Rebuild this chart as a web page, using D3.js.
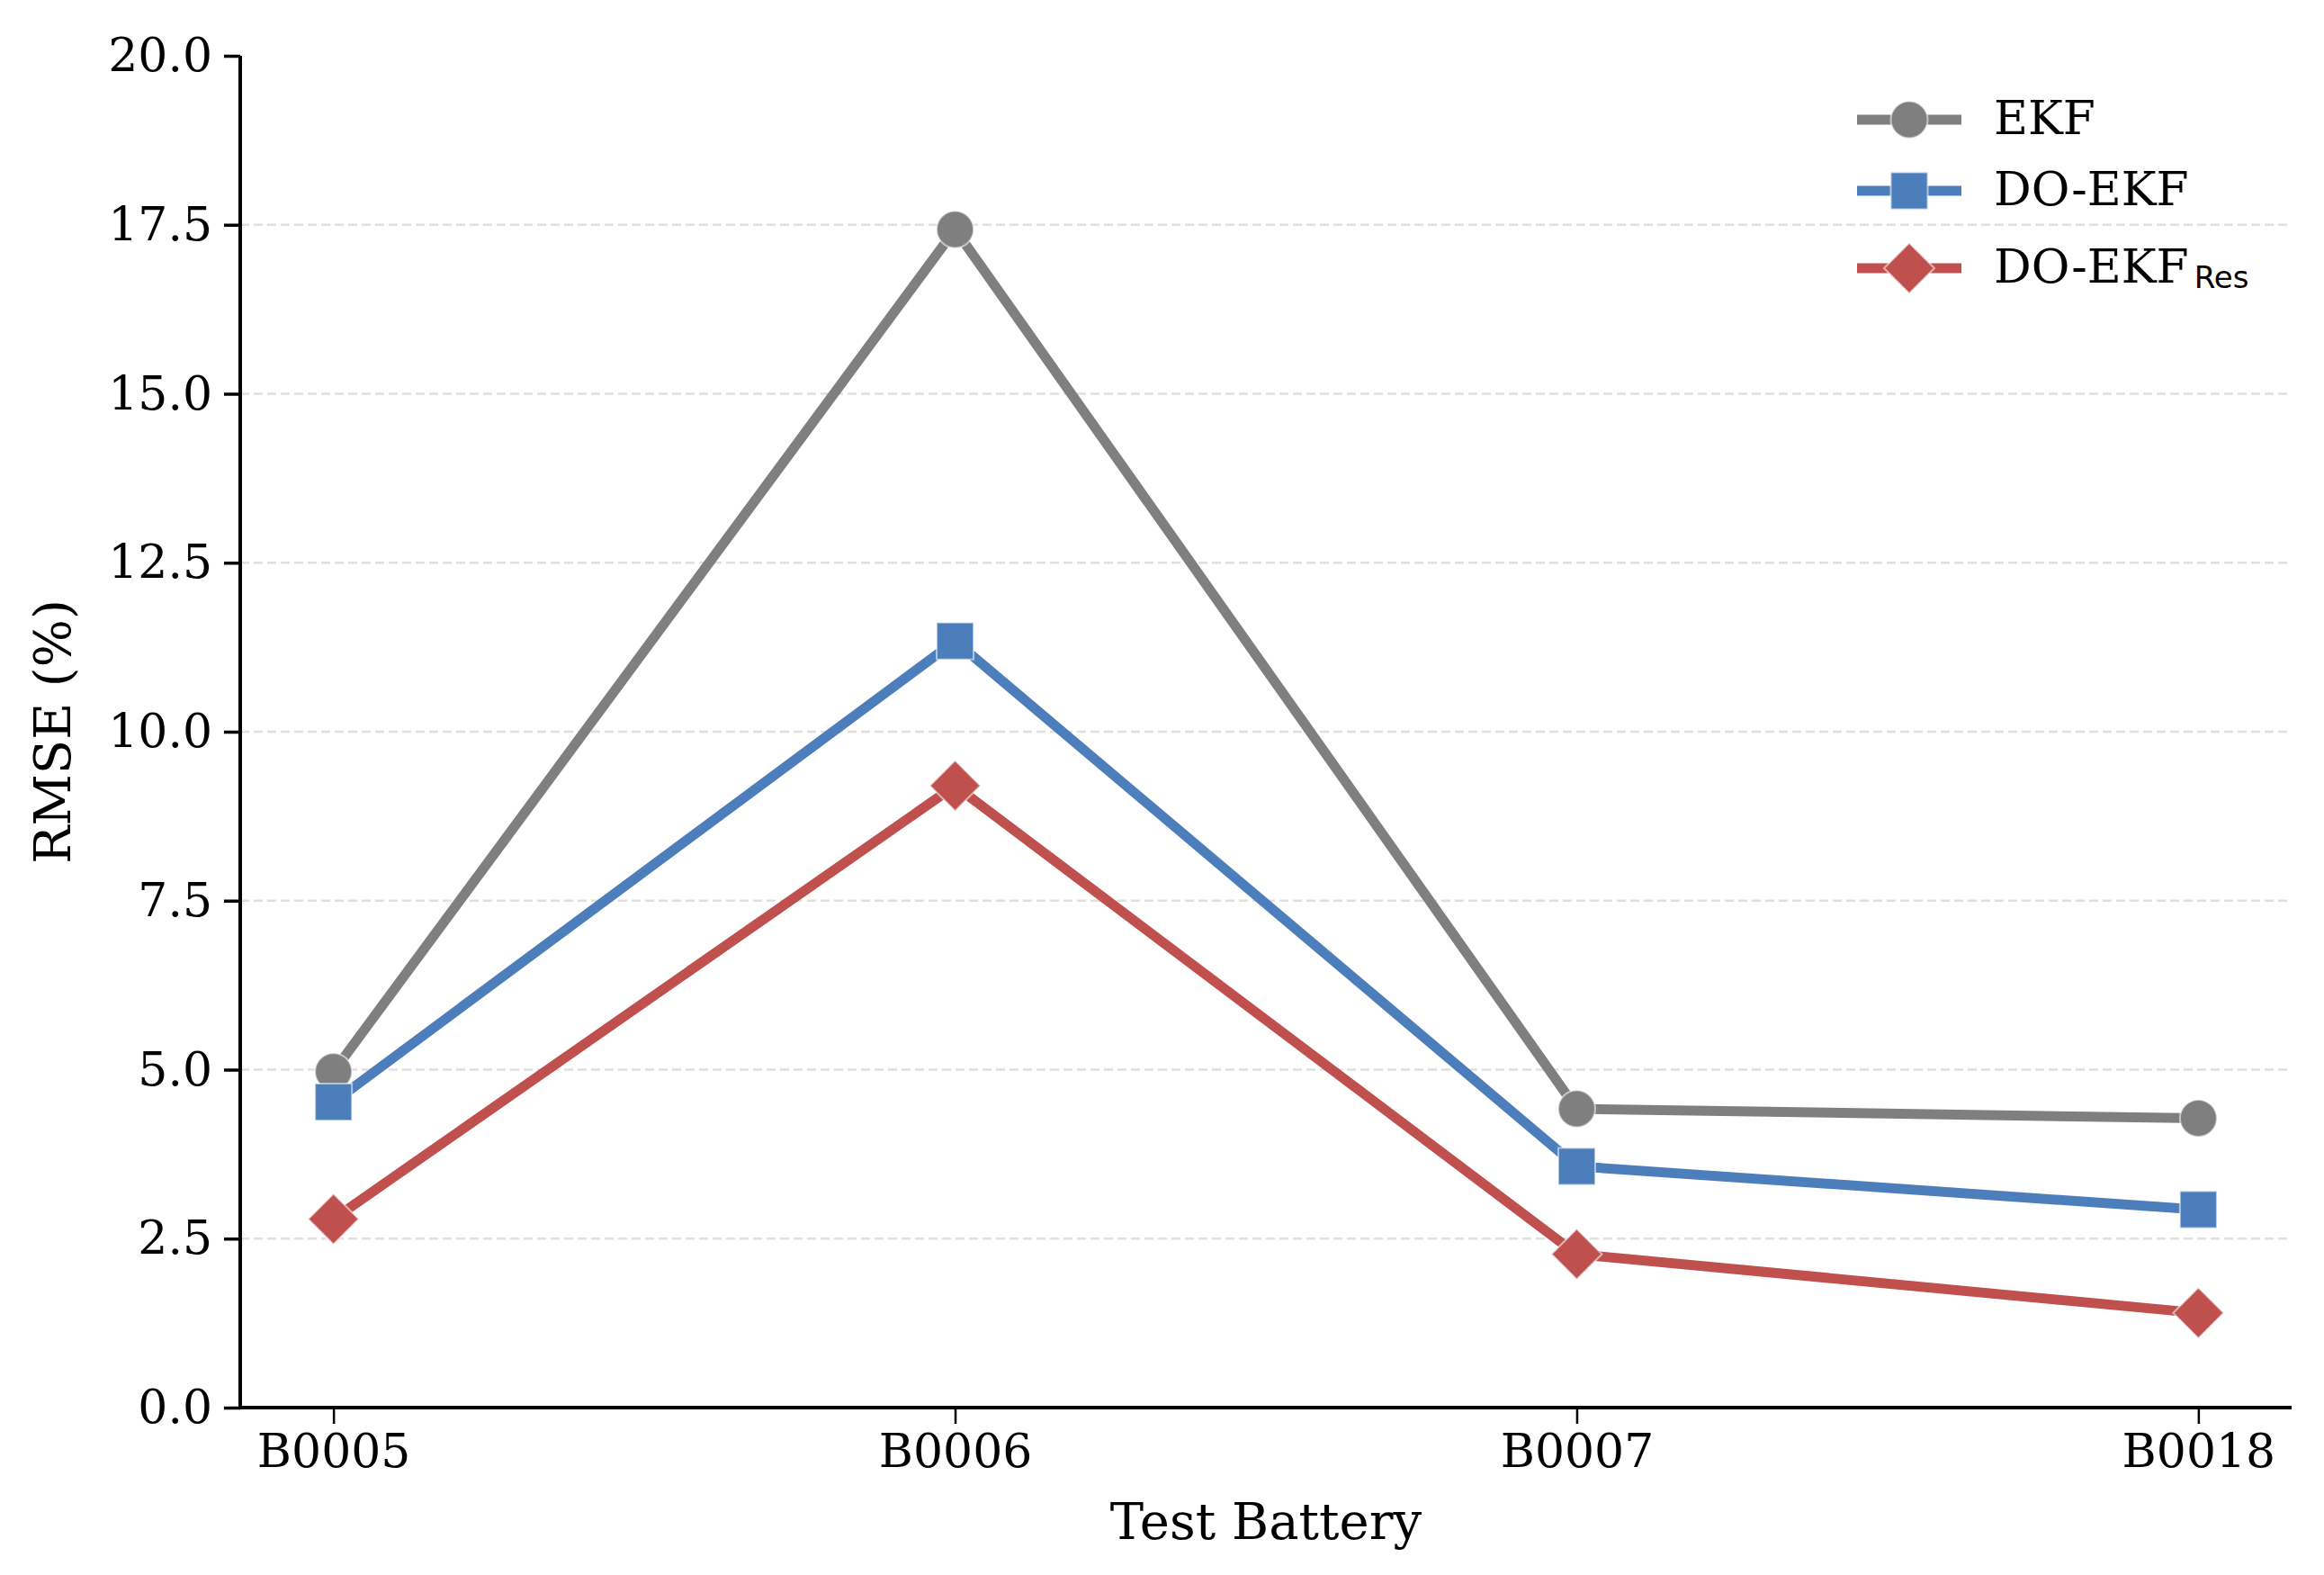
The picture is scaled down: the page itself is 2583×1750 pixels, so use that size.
<!DOCTYPE html>
<html>
<head>
<meta charset="utf-8">
<script src="https://cdn.jsdelivr.net/npm/d3@7"></script>
<style>
  html, body { margin: 0; padding: 0; background: #fff; }
  svg { display: block; }
</style>
</head>
<body>
<svg id="chart" width="2583" height="1750"></svg>
<script>
// ---- Data ----
const categories = ["B0005", "B0006", "B0007", "B0018"];
const ekfValues = [4.97, 17.43, 4.42, 4.28];
const doEkfValues = [4.52, 11.34, 3.57, 2.93];
const doEkfResValues = [2.79, 9.20, 2.27, 1.40];
const yTicks = [0, 2.5, 5, 7.5, 10, 12.5, 15, 17.5, 20];
const seriesNames = ["EKF", "DO-EKF", "DO-EKF"];
const seriesSubs = ["", "", "Res"];
const seriesColors = ["#7f7f7f", "#4d7ebc", "#c0504d"];
const seriesMarkers = ["circle", "square", "diamond"];
const xLabel = "Test Battery";
const yLabel = "RMSE (%)";

const series = [ekfValues, doEkfValues, doEkfResValues].map((vals, i) => ({
  name: seriesNames[i], sub: seriesSubs[i], color: seriesColors[i], marker: seriesMarkers[i],
  values: vals.map((v, j) => ({ cat: j, v }))
}));

// ---- Layout ----
const svg = d3.select("#chart");
const pLeft = 267, pRight = 2547, pTop = 62, pBottom = 1564;
const serif = "'DejaVu Serif', serif";

const x = d3.scaleLinear().domain([-0.15, categories.length - 1 + 0.15]).range([pLeft, pRight]);
const y = d3.scaleLinear().domain([0, 20]).range([pBottom, pTop]);

// gridlines
svg.append("g")
  .selectAll("line")
  .data(yTicks.filter(t => t > 0 && t < 20))
  .join("line")
  .attr("x1", pLeft).attr("x2", pRight)
  .attr("y1", d => y(d)).attr("y2", d => y(d))
  .attr("stroke", "#e0e0e0")
  .attr("stroke-width", 2.5)
  .attr("stroke-dasharray", "10,5");

// y axis
const yAxis = svg.append("g")
  .attr("transform", `translate(${pLeft},0)`)
  .call(d3.axisLeft(y).tickValues(yTicks).tickFormat(d3.format(".1f")).tickSize(18).tickPadding(13));
yAxis.select(".domain").attr("stroke", "#000").attr("stroke-width", 4).attr("d", `M0,${pTop}V${pBottom}`);
yAxis.selectAll(".tick line").attr("stroke", "#000").attr("stroke-width", 3.5);
yAxis.selectAll(".tick text").attr("font-family", serif).attr("font-size", 52).attr("fill", "#000");

// x axis
const xAxis = svg.append("g")
  .attr("transform", `translate(0,${pBottom})`)
  .call(d3.axisBottom(x).tickValues(d3.range(categories.length)).tickFormat(i => categories[i]).tickSize(18).tickPadding(11));
xAxis.select(".domain").attr("stroke", "#000").attr("stroke-width", 4).attr("d", `M${pLeft - 2},0H${pRight}`);
xAxis.selectAll(".tick line").attr("stroke", "#000").attr("stroke-width", 2.5);
xAxis.selectAll(".tick text").attr("font-family", serif).attr("font-size", 52).attr("fill", "#000");

// axis labels
svg.append("text")
  .attr("x", (pLeft + pRight) / 2).attr("y", 1710)
  .attr("text-anchor", "middle")
  .attr("font-family", serif).attr("font-size", 56).attr("fill", "#000")
  .text(xLabel);
svg.append("text")
  .attr("transform", `translate(78,${(pTop + pBottom) / 2}) rotate(-90)`)
  .attr("text-anchor", "middle")
  .attr("font-family", serif).attr("font-size", 56).attr("fill", "#000")
  .text(yLabel);

// marker generator
function markerPath(type) {
  if (type === "circle") return d3.symbol(d3.symbolCircle, Math.PI * 20.5 * 20.5)();
  if (type === "square") return d3.symbol(d3.symbolSquare, 41 * 41)();
  const h = 28;
  return `M0,${-h}L${h},0L0,${h}L${-h},0Z`;
}

const line = d3.line().x(d => x(d.cat)).y(d => y(d.v));

series.forEach(s => {
  const g = svg.append("g");
  g.append("path")
    .datum(s.values)
    .attr("d", line)
    .attr("fill", "none")
    .attr("stroke", s.color)
    .attr("stroke-width", 11)
    .attr("stroke-linejoin", "round")
    .attr("stroke-linecap", "butt");
  g.selectAll("path.mk")
    .data(s.values)
    .join("path")
    .attr("class", "mk")
    .attr("transform", d => `translate(${x(d.cat)},${y(d.v)})`)
    .attr("d", markerPath(s.marker))
    .attr("fill", s.color)
    .attr("stroke", "#ffffff")
    .attr("stroke-opacity", 0.55)
    .attr("stroke-width", 2);
});

// legend
const legendRows = [133, 212, 298];
const legend = svg.append("g");
series.forEach((s, i) => {
  const cy = legendRows[i];
  legend.append("line")
    .attr("x1", 2064).attr("x2", 2180).attr("y1", cy).attr("y2", cy)
    .attr("stroke", s.color).attr("stroke-width", 11);
  legend.append("path")
    .attr("transform", `translate(2122,${cy})`)
    .attr("d", markerPath(s.marker))
    .attr("fill", s.color)
    .attr("stroke", "#ffffff").attr("stroke-opacity", 0.55).attr("stroke-width", 2);
  const t = legend.append("text")
    .attr("x", 2216).attr("y", cy + 16)
    .attr("font-family", serif).attr("font-size", 52).attr("fill", "#000");
  t.append("tspan").text(s.name);
  if (s.sub) {
    t.append("tspan")
      .attr("font-family", "'DejaVu Sans', sans-serif")
      .attr("font-size", 34)
      .attr("dx", 6)
      .attr("dy", 6)
      .text(s.sub);
  }
});
</script>
</body>
</html>
